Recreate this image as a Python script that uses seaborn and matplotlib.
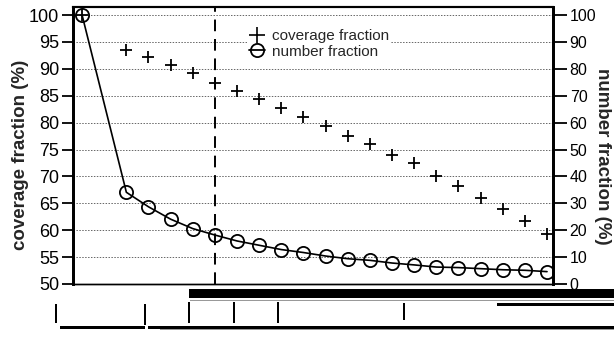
import matplotlib
matplotlib.use("Agg")
import matplotlib.pyplot as plt
from matplotlib.lines import Line2D
import seaborn as sns
import pandas as pd

# ---- data ----
rank = [0, 2, 3, 4, 5, 6, 7, 8, 9, 10, 11, 12, 13, 14, 15, 16, 17, 18, 19, 20, 21]
coverage = [100, 93.5, 92.2, 90.7, 89.2, 87.3, 85.9, 84.3, 82.7, 81.1, 79.3,
            77.6, 76.0, 74.0, 72.5, 70.1, 68.2, 66.0, 64.0, 61.8, 59.3]
number = [100, 34.1, 28.7, 24.1, 20.6, 18.2, 16.0, 14.4, 12.8, 11.7, 10.4,
          9.4, 8.8, 7.8, 7.1, 6.3, 6.1, 5.7, 5.3, 5.1, 4.6]
cutoff = 6
left_ticks = [50, 55, 60, 65, 70, 75, 80, 85, 90, 95, 100]
right_ticks = [0, 10, 20, 30, 40, 50, 60, 70, 80, 90, 100]

df = pd.DataFrame({"rank": rank, "coverage": coverage, "number": number})

sns.set_theme(style="white")
plt.rcParams["font.family"] = ["Liberation Sans", "DejaVu Sans"]

W, H = 614, 360
fig = plt.figure(figsize=(W / 100, H / 100), dpi=100)
ax = fig.add_axes([73 / W, 1 - 284 / H, 480 / W, (284 - 6.7) / H])
ax2 = ax.twinx()

ax.grid(axis="y", color="#666666", linestyle=(0, (1.5, 1.5)), linewidth=0.7)
ax.axvline(cutoff, color="black", linestyle=(0, (6, 4)), linewidth=1.4, zorder=2)

sns.scatterplot(data=df, x="rank", y="coverage", marker="+", s=70, color="black",
                linewidth=1.3, ax=ax, zorder=3, legend=False)
sns.lineplot(data=df, x="rank", y="number", marker="o", markersize=9.5,
             markerfacecolor="none", markeredgecolor="black", markeredgewidth=1.3,
             color="black", linewidth=1.2, ax=ax2, legend=False)

ax.set_xlim(-0.41, 21.27)
ax.set_ylim(50, 101.55)
ax2.set_ylim(0, 103.1)
ax.set_yticks(left_ticks)
ax2.set_yticks(right_ticks)
ax.set_xticks([])
ax.set_xlabel("")
ax2.set_xlabel("")

ax.tick_params(axis="y", left=True, direction="out", length=8, width=1.3,
               labelsize=13, pad=2, colors="black")
ax2.tick_params(axis="y", right=True, direction="out", length=10, width=1.3,
                labelsize=11.5, pad=2, colors="black")

ax.set_ylabel("coverage fraction (%)", fontsize=13.5, fontweight="bold", va="center")
ax.yaxis.set_label_coords(-0.11, 0.465)
ax2.set_ylabel("number fraction (%)", fontsize=13.5, fontweight="bold",
               rotation=270, va="center")
ax2.yaxis.set_label_coords(1.104, 0.46)

for a in (ax, ax2):
    for s in a.spines.values():
        s.set_color("black")
    a.spines["left"].set_linewidth(2)
    a.spines["right"].set_linewidth(2)
    a.spines["top"].set_linewidth(1.5)
    a.spines["bottom"].set_linewidth(1.0)

handles = [
    Line2D([], [], marker="+", color="black", linestyle="none", markersize=11,
           markeredgewidth=1.2),
    Line2D([], [], marker="o", color="black", linewidth=1.3, markersize=9.5,
           markerfacecolor="none", markeredgewidth=1.3),
]
leg = ax2.legend(handles, ["coverage fraction", "number fraction"],
                 loc="upper left", bbox_to_anchor=(247 / W, 1 - 27.5 / H),
                 bbox_transform=fig.transFigure, fontsize=11, frameon=True,
                 facecolor="white", edgecolor="none", framealpha=1,
                 handlelength=1.1, handletextpad=0.45, borderpad=0.1,
                 labelspacing=0.1, borderaxespad=0)

# ---- broken rendering strip under the chart (decoration) ----
def hbar(x0, x1, y0, y1, c="black"):
    fig.patches.append(plt.Rectangle((x0 / W, 1 - y1 / H), (x1 - x0) / W, (y1 - y0) / H,
                                     transform=fig.transFigure, color=c, lw=0))

hbar(189, 614, 289, 298)
hbar(190, 614, 300, 301, "#999999")
hbar(497, 614, 303, 305.5)
hbar(60, 145, 326, 328.5)
hbar(148, 614, 326, 328.5)
hbar(160, 614, 329, 330, "#999999")
for xv, y0, y1 in [(55, 304, 323), (144, 304, 325), (188, 302, 323), (233, 302, 323),
                   (277, 302, 323), (403, 303, 320)]:
    hbar(xv, xv + 1.5, y0, y1)

fig.savefig("out.png", dpi=100)
